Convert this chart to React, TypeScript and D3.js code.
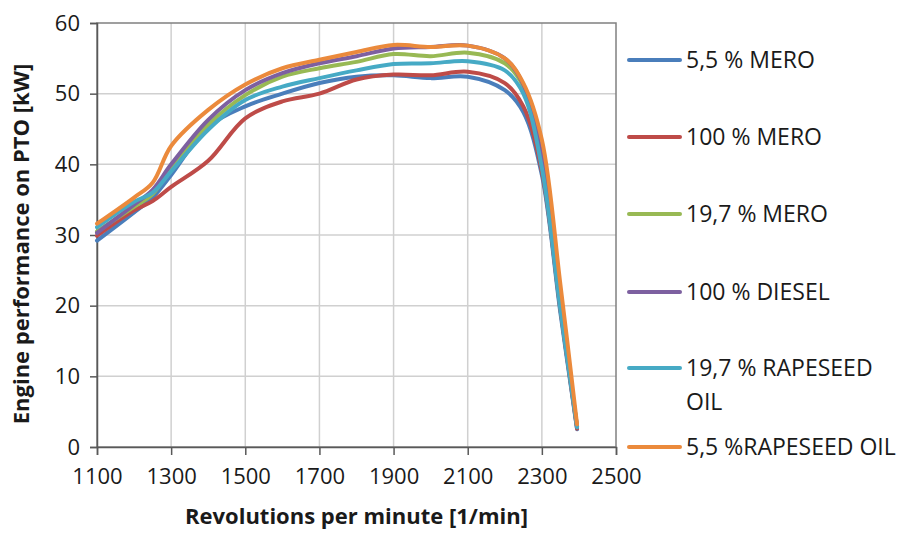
import React, { useEffect, useRef } from "react";
import * as d3 from "d3";

// revolutions per minute where the curves were sampled
const rpm = [1100, 1200, 1250, 1300, 1400, 1500, 1600, 1700, 1800, 1900, 2000, 2100, 2200, 2250, 2300, 2350, 2395];

const mero55 = [29.2, 33.2, 35.3, 38.5, 45.3, 48.2, 50.0, 51.5, 52.4, 52.6, 52.2, 52.4, 50.5, 47.4, 38.5, 19.0, 2.5];
const mero100 = [29.9, 33.5, 34.8, 36.8, 40.5, 46.5, 48.9, 50.0, 52.0, 52.7, 52.6, 53.1, 51.5, 48.2, 39.0, 19.5, 2.6];
const mero197 = [30.5, 34.0, 35.8, 39.5, 45.6, 49.8, 52.4, 53.6, 54.5, 55.6, 55.3, 55.8, 54.3, 51.0, 40.5, 20.0, 2.9];
const diesel100 = [30.3, 34.3, 36.4, 40.0, 46.3, 50.5, 52.9, 54.3, 55.3, 56.4, 56.6, 56.8, 55.0, 51.3, 41.0, 20.0, 2.9];
const rape197 = [31.1, 34.7, 36.0, 39.0, 44.9, 49.1, 51.0, 52.2, 53.3, 54.2, 54.3, 54.6, 53.3, 50.0, 39.5, 19.5, 2.8];
const rape55 = [31.6, 35.3, 37.4, 42.6, 47.7, 51.3, 53.6, 54.8, 55.9, 56.9, 56.6, 56.8, 55.0, 51.5, 43.5, 23.0, 3.2];

const seriesNames = ["5,5 % MERO", "100 % MERO", "19,7 % MERO", "100 % DIESEL", "19,7 % RAPESEED OIL", "5,5 %RAPESEED OIL"];
const seriesValues = [mero55, mero100, mero197, diesel100, rape197, rape55];
const colors = ["#4a7ebb", "#be4b48", "#98b954", "#7d60a0", "#46aac5", "#eb8a3c"];

const xTicks = [1100, 1300, 1500, 1700, 1900, 2100, 2300, 2500];
const yTicks = [0, 10, 20, 30, 40, 50, 60];

const FONT = "'Open Sans', sans-serif";

const App = () => {
	const ref = useRef(null);

	useEffect(() => {
		document.body.style.margin = "0";
		const width = 901;
		const height = 533;
		const margin = { top: 23, right: 285, bottom: 86, left: 97 };

		d3.select(ref.current).selectAll("*").remove();
		const svg = d3
			.select(ref.current)
			.append("svg")
			.attr("width", width)
			.attr("height", height)
			.style("display", "block")
			.style("background", "#fff");

		const x = d3.scaleLinear().domain([1100, 2500]).range([margin.left, width - margin.right]);
		const y = d3.scaleLinear().domain([0, 60]).range([height - margin.bottom, margin.top]);

		// grid
		svg
			.append("g")
			.selectAll("line.v")
			.data(xTicks.slice(1, -1))
			.join("line")
			.attr("x1", (d) => x(d))
			.attr("x2", (d) => x(d))
			.attr("y1", y(0))
			.attr("y2", y(60))
			.attr("stroke", "#d0d0d0")
			.attr("stroke-width", 1.5);
		svg
			.append("g")
			.selectAll("line.h")
			.data(yTicks.slice(1, -1))
			.join("line")
			.attr("x1", x(1100))
			.attr("x2", x(2500))
			.attr("y1", (d) => y(d))
			.attr("y2", (d) => y(d))
			.attr("stroke", "#d0d0d0")
			.attr("stroke-width", 1.5);

		// plot border
		svg
			.append("rect")
			.attr("x", x(1100))
			.attr("y", y(60))
			.attr("width", x(2500) - x(1100))
			.attr("height", y(0) - y(60))
			.attr("fill", "none")
			.attr("stroke", "#808080")
			.attr("stroke-width", 1.5);

		// axes
		const xAxis = svg
			.append("g")
			.attr("transform", `translate(0,${y(0)})`)
			.call(d3.axisBottom(x).tickValues(xTicks).tickSize(8).tickPadding(13).tickFormat(d3.format("d")));
		const yAxis = svg
			.append("g")
			.attr("transform", `translate(${x(1100)},0)`)
			.call(d3.axisLeft(y).tickValues(yTicks).tickSize(7).tickPadding(10));
		[xAxis, yAxis].forEach((g) => {
			g.select(".domain").attr("stroke", "#595959").attr("stroke-width", 1.5);
			g.selectAll(".tick line").attr("stroke", "#595959").attr("stroke-width", 1.5);
			g.selectAll("text").attr("font-family", FONT).attr("font-size", 22).attr("fill", "#1a1a1a");
		});

		// series
		const line = d3
			.line()
			.x((d) => x(d[0]))
			.y((d) => y(d[1]))
			.curve(d3.curveCatmullRom.alpha(0.5));

		seriesValues.forEach((vals, i) => {
			svg
				.append("path")
				.datum(rpm.map((r, j) => [r, vals[j]]))
				.attr("fill", "none")
				.attr("stroke", colors[i])
				.attr("stroke-width", 4)
				.attr("stroke-linejoin", "round")
				.attr("stroke-linecap", "round")
				.attr("d", line);
		});

		// axis titles
		svg
			.append("text")
			.attr("x", (x(1100) + x(2500)) / 2)
			.attr("y", 524)
			.attr("text-anchor", "middle")
			.attr("font-family", FONT)
			.attr("font-weight", "bold")
			.attr("font-size", 22)
			.attr("fill", "#1a1a1a")
			.text("Revolutions per minute [1/min]");
		svg
			.append("text")
			.attr("transform", `translate(29,${(y(0) + y(60)) / 2 + 9}) rotate(-90)`)
			.attr("text-anchor", "middle")
			.attr("font-family", FONT)
			.attr("font-weight", "bold")
			.attr("font-size", 22)
			.attr("fill", "#1a1a1a")
			.text("Engine performance on PTO [kW]");

		// legend
		const legendY = [60, 137, 214, 292, 368, 447];
		const legend = svg.append("g");
		seriesNames.forEach((name, i) => {
			const g = legend.append("g").attr("transform", `translate(0,${legendY[i]})`);
			g.append("line")
				.attr("x1", 629)
				.attr("x2", 680)
				.attr("stroke", colors[i])
				.attr("stroke-width", 4)
				.attr("stroke-linecap", "round");
			const t = g
				.append("text")
				.attr("x", 686)
				.attr("y", 8)
				.attr("font-family", FONT)
				.attr("font-size", 23)
				.attr("fill", "#1a1a1a");
			if (name === "19,7 % RAPESEED OIL") {
				t.text("19,7 % RAPESEED");
				t.append("tspan").attr("x", 686).attr("dy", 34).text("OIL");
			} else {
				t.text(name);
			}
		});
	}, []);

	return <div ref={ref}></div>;
};

export default App;
